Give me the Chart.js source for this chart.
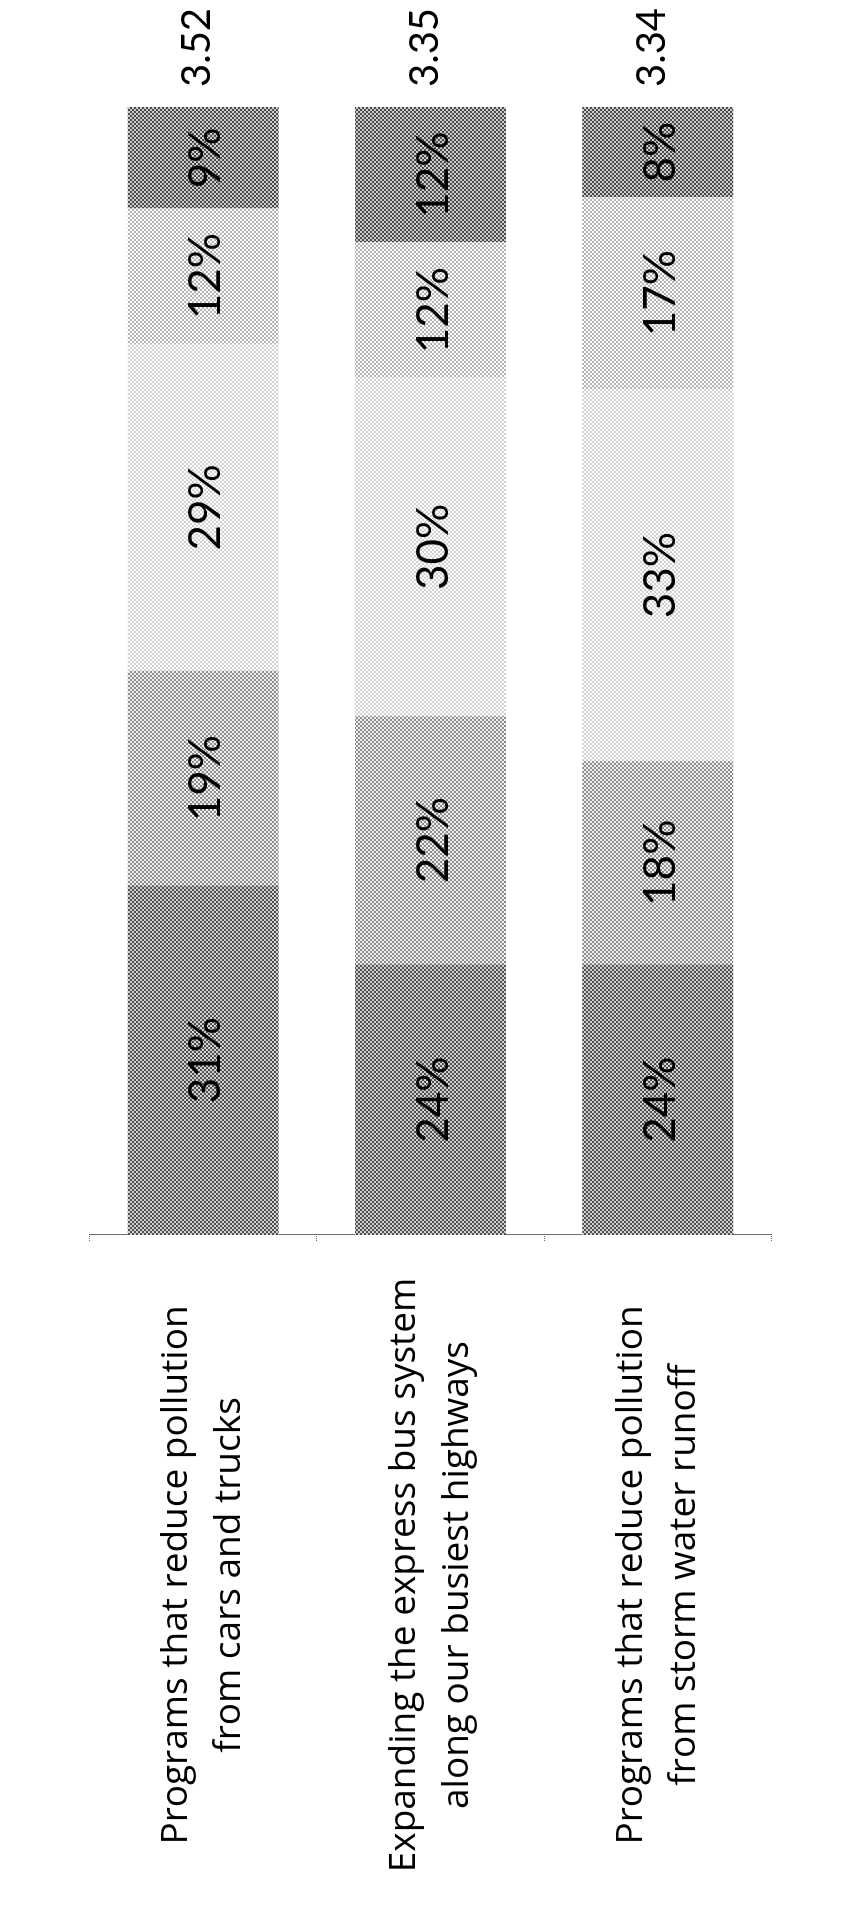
<!DOCTYPE html>
<html>
<head>
<meta charset="utf-8">
<script src="https://cdn.jsdelivr.net/npm/chart.js@4/dist/chart.umd.min.js"></script>
<style>
  html, body { margin: 0; padding: 0; background: #fff; overflow: hidden; }
  body { width: 861px; height: 1915px; position: relative; }
  /* the chart is laid out landscape and turned a quarter-turn to stand upright */
  #frame {
    position: absolute; left: 0; top: 0;
    width: 1915px; height: 861px;
    transform-origin: 0 0;
    transform: translate(0px, 1915px) rotate(-90deg);
  }
</style>
</head>
<body>
<div id="frame"><canvas id="chart" width="1915" height="861"></canvas></div>
<script>
// survey items
const categories = [
  ['Programs that reduce pollution', 'from cars and trucks'],
  ['Expanding the express bus system', 'along our busiest highways'],
  ['Programs that reduce pollution', 'from storm water runoff']
];
// share of answers for each point of the 1–5 scale, in percent
const level1 = [31, 24, 24];
const level2 = [19, 22, 18];
const level3 = [29, 30, 33];
const level4 = [12, 12, 17];
const level5 = [9, 12, 8];
// mean score of each item
const meanScores = ['3.52', '3.35', '3.34'];

const labelFont = '"Open Sans", "Noto Sans", sans-serif';
const numberFont = 'Lato, "Open Sans", sans-serif';
const labelSize = 37;

const canvas = document.getElementById('chart');
const ctx = canvas.getContext('2d');

// halftone-like dot fills
function dots(dark, light) {
  const tile = document.createElement('canvas');
  tile.width = 4; tile.height = 4;
  const g = tile.getContext('2d');
  g.fillStyle = light; g.fillRect(0, 0, 4, 4);
  g.fillStyle = dark; g.fillRect(0, 0, 2, 2); g.fillRect(2, 2, 2, 2);
  return ctx.createPattern(tile, 'repeat');
}
const fills = [
  dots('#505050', '#d0d0d0'),
  dots('#8c8c8c', '#f0f0f0'),
  dots('#d2d2d2', '#ffffff'),
  dots('#b4b4b4', '#fcfcfc'),
  dots('#4a4a4a', '#cccccc')
];

// keep the item labels centred on a common line left of the axis
const axisRight = 680;
const labelCentre = 340;
const tickLen = 6;
ctx.font = labelSize + 'px ' + labelFont;
let widest = 0;
categories.forEach(lines => lines.forEach(t => { widest = Math.max(widest, ctx.measureText(t).width); }));
const tickPad = Math.max(2, axisRight - tickLen - labelCentre - widest / 2);

const valueLabels = {
  id: 'valueLabels',
  afterDatasetsDraw(chart) {
    const c = chart.ctx;
    c.save();
    c.fillStyle = '#000';
    c.textBaseline = 'alphabetic';
    c.textAlign = 'center';
    c.font = '44px ' + numberFont;
    chart.data.datasets.forEach((ds, di) => {
      chart.getDatasetMeta(di).data.forEach((bar, i) => {
        const p = bar.getProps(['x', 'y', 'base'], true);
        c.fillText(ds.data[i] + '%', (p.x + p.base) / 2, p.y + 17);
      });
    });
    const last = chart.getDatasetMeta(chart.data.datasets.length - 1);
    c.textAlign = 'left';
    c.font = '40px ' + numberFont;
    last.data.forEach((bar, i) => {
      c.fillText(meanScores[i], bar.x + 20, bar.y + 7);
    });
    c.restore();
  }
};

const series = [level1, level2, level3, level4, level5];

new Chart(canvas, {
  type: 'bar',
  data: {
    labels: categories,
    datasets: series.map((vals, k) => ({
      label: String(k + 1),
      data: vals,
      backgroundColor: fills[k],
      borderWidth: 0,
      barPercentage: 0.665,
      categoryPercentage: 1
    }))
  },
  options: {
    indexAxis: 'y',
    responsive: false,
    animation: false,
    devicePixelRatio: 1,
    layout: { padding: { left: 8, right: 107, top: 9, bottom: 0 } },
    plugins: { legend: { display: false }, tooltip: { enabled: false }, title: { display: false } },
    scales: {
      x: { stacked: true, min: 0, max: 100, display: false },
      y: {
        stacked: true,
        afterFit(scale) { scale.width = axisRight - 8; },
        border: { display: true, color: '#6e6e6e', width: 1, dash: [1, 1] },
        grid: {
          display: true, drawOnChartArea: false, offset: true,
          tickLength: tickLen, color: '#6e6e6e', tickBorderDash: [1, 1], tickWidth: 1
        },
        ticks: {
          crossAlign: 'center',
          padding: tickPad,
          color: '#000',
          font: { family: labelFont, size: labelSize, lineHeight: 1.43 }
        }
      }
    }
  },
  plugins: [valueLabels]
});
</script>
</body>
</html>
